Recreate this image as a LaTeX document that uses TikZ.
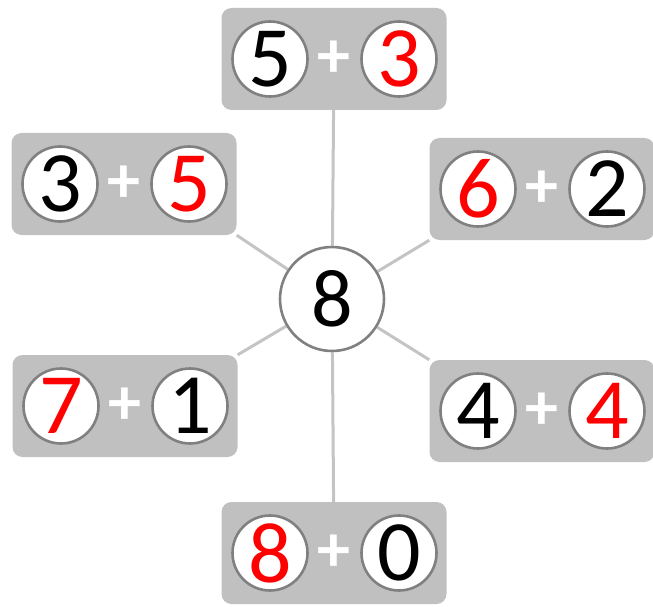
\documentclass[tikz,border=0pt]{standalone}
\usepackage{fontspec}
\setmainfont{Carlito}
\usetikzlibrary{positioning, backgrounds}
\definecolor{boxgray}{RGB}{192,192,192}
\definecolor{ringgray}{RGB}{128,128,128}
\definecolor{linkgray}{RGB}{196,196,196}
\definecolor{sumred}{RGB}{255,0,0}

\begin{document}
\begin{tikzpicture}[x=1pt, y=-1pt,
    pair/.style={fill=boxgray, rounded corners=10pt, minimum width=225pt,
      minimum height=102pt},
    digit/.style={circle, draw=ringgray, line width=2.6pt, fill=white,
      minimum size=75pt, inner sep=0pt, font=\fontsize{86}{86}\selectfont},
    hub/.style={digit, minimum size=104pt, font=\fontsize{82}{82}\selectfont},
    plus/.style={text=white, inner sep=0pt, font=\bfseries\fontsize{66}{66}\selectfont},
    link/.style={draw=linkgray, line width=3pt}]
    \useasboundingbox (0,0) rectangle (653,607);

    \node[hub] (sum) at (332,299) {8};

    \node[pair] (top) at (334,59) {};
    \node[plus] (top+) at (top) {+};
    \node[digit, xshift=-64pt] (topl) at (top) {5};
    \node[digit, xshift=65pt, text=sumred] (topr) at (top) {3};

    \node[pair] (ul) at (124,184) {};
    \node[plus] (ul+) at (ul) {+};
    \node[digit, xshift=-64pt] (ull) at (ul) {3};
    \node[digit, xshift=65pt, text=sumred] (ulr) at (ul) {5};

    \node[pair] (ur) at (542,189) {};
    \node[plus] (ur+) at (ur) {+};
    \node[digit, xshift=-64pt, text=sumred] (url) at (ur) {6};
    \node[digit, xshift=65pt] (urr) at (ur) {2};

    \node[pair] (ll) at (125,406) {};
    \node[plus] (ll+) at (ll) {+};
    \node[digit, xshift=-64pt, text=sumred] (lll) at (ll) {7};
    \node[digit, xshift=65pt] (llr) at (ll) {1};

    \node[pair] (lr) at (542,411) {};
    \node[plus] (lr+) at (lr) {+};
    \node[digit, xshift=-64pt] (lrl) at (lr) {4};
    \node[digit, xshift=65pt, text=sumred] (lrr) at (lr) {4};

    \node[pair] (bot) at (334,553) {};
    \node[plus] (bot+) at (bot) {+};
    \node[digit, xshift=-64pt, text=sumred] (botl) at (bot) {8};
    \node[digit, xshift=65pt] (botr) at (bot) {0};

    \begin{scope}[on background layer]
      \draw[link] (sum) -- (top);
      \draw[link] (sum) -- (bot);
      \draw[link] (sum) -- (ul.south east);
      \draw[link] (sum) -- (ur.south west);
      \draw[link] (sum) -- (ll.north east);
      \draw[link] (sum) -- (lr.north west);
    \end{scope}
  \end{tikzpicture}
\end{document}
